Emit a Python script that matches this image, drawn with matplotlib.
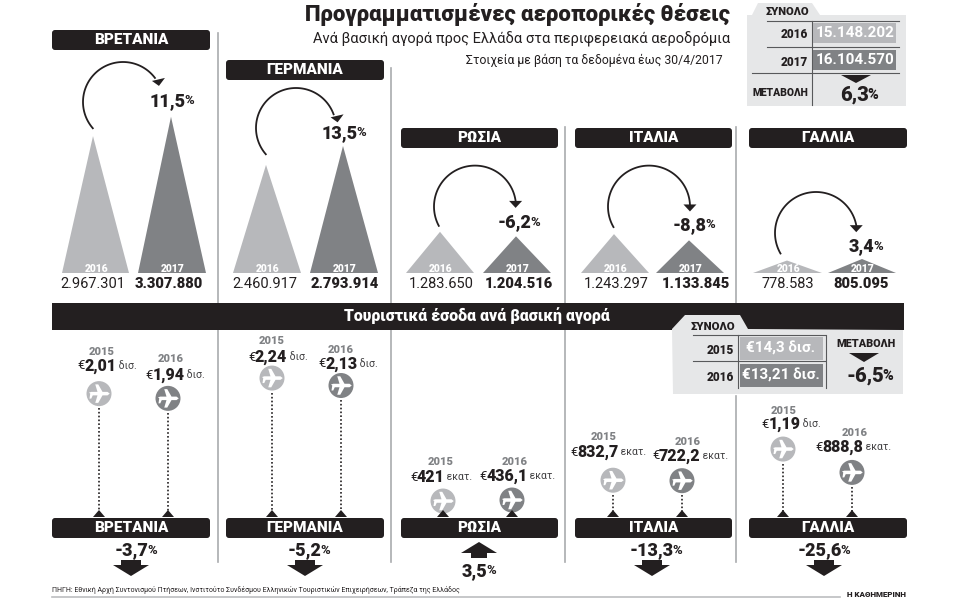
"""Greek infographic: scheduled airline seats and tourism revenue by main market."""

import numpy as np
import matplotlib

matplotlib.use("Agg")
import matplotlib.pyplot as plt
from matplotlib.patches import Circle, FancyBboxPatch, Polygon

plt.rcParams["font.family"] = ["Roboto", "DejaVu Sans"]

COUNTRIES = ["ΒΡΕΤΑΝΙΑ", "ΓΕΡΜΑΝΙΑ", "ΡΩΣΙΑ", "ΙΤΑΛΙΑ", "ΓΑΛΛΙΑ"]

SEATS_2016 = [2967301, 2460917, 1283650, 1243297, 778583]
SEATS_2017 = [3307880, 2793914, 1204516, 1133845, 805095]
SEATS_CHANGE = ["11,5", "13,5", "-6,2", "-8,8", "3,4"]

REVENUE_2015 = [2.01, 2.24, 0.421, 0.8327, 1.19]
REVENUE_2016 = [1.94, 2.13, 0.4361, 0.7222, 0.8888]
REVENUE_LABEL_2015 = ["2,01", "2,24", "421", "832,7", "1,19"]
REVENUE_LABEL_2016 = ["1,94", "2,13", "436,1", "722,2", "888,8"]
REVENUE_UNIT_2015 = ["δισ.", "δισ.", "εκατ.", "εκατ.", "δισ."]
REVENUE_UNIT_2016 = ["δισ.", "δισ.", "εκατ.", "εκατ.", "εκατ."]
REVENUE_CHANGE = ["-3,7", "-5,2", "3,5", "-13,3", "-25,6"]

TOTAL_SEATS = ["15.148.202", "16.104.570"]
TOTAL_SEATS_CHANGE = "6,3"
TOTAL_REVENUE = ["€14,3 δισ.", "€13,21 δισ."]
TOTAL_REVENUE_CHANGE = "-6,5"

LIGHT = "#b7b8bb"
DARK = "#808285"
INK = "#231f20"
PANEL = "#e6e7e8"
RULE = "#a9abae"
HEAVY = 900

fig = plt.figure(figsize=(9.58, 5.98), dpi=100)
ax = fig.add_axes([0, 0, 1, 1])
ax.set_xlim(0, 958)
ax.set_ylim(598, 0)
ax.axis("off")
renderer = fig.canvas.get_renderer()


def label(x, y, text, size=10, weight="normal", color=INK, ha="center", zorder=6):
    return ax.text(x, y, text, fontsize=size, fontweight=weight, color=color, ha=ha, va="center", zorder=zorder)


def rich(x, y, parts, gap=0):
    """Centre a run of (text, size, weight, colour) pieces around x."""
    items = [label(0, y, t, s, w, c, ha="left") for t, s, w, c in parts]
    widths = [i.get_window_extent(renderer).width + gap for i in items]
    left = x - sum(widths) / 2
    for item, width in zip(items, widths):
        item.set_x(left)
        left += width


def percent(x, y, value, size=13):
    rich(x, y, [(value, size, HEAVY, INK), ("%", size * 0.72, HEAVY, INK)], gap=-1.5)


def header(x0, x1, y0, y1, text):
    ax.add_patch(FancyBboxPatch((x0 + 3, y0 + 3), x1 - x0 - 6, y1 - y0 - 6, boxstyle="round,pad=3", fc=INK, ec="none", zorder=3))
    label((x0 + x1) / 2, (y0 + y1) / 2, text, 11, HEAVY, "white")


def down_arrow(cx, top, half=18, stem=10):
    ax.add_patch(Polygon([(cx - stem, top), (cx + stem, top), (cx + stem, top + 5), (cx + half, top + 5), (cx, top + 16), (cx - half, top + 5), (cx - stem, top + 5)], fc=INK, ec="none", zorder=4))


def up_arrow(cx, top, half=18, stem=8):
    ax.add_patch(Polygon([(cx, top), (cx + half, top + 11), (cx + stem, top + 11), (cx + stem, top + 16), (cx - stem, top + 16), (cx - stem, top + 11), (cx - half, top + 11)], fc=INK, ec="none", zorder=4))


def plane(cx, cy, r, color):
    ax.add_patch(Circle((cx, cy), r, fc=color, ec="none", zorder=3))
    shape = np.array([
        (-0.80, -0.08), (-0.62, -0.14), (-0.12, -0.14), (-0.30, -0.74), (-0.06, -0.74), (0.28, -0.14), (0.68, -0.14),
        (0.86, 0.0), (0.68, 0.14), (0.28, 0.14), (-0.06, 0.74), (-0.30, 0.74), (-0.12, 0.14), (-0.50, 0.14),
        (-0.62, 0.40), (-0.76, 0.40), (-0.70, 0.0),
    ])
    ax.add_patch(Polygon(shape * r + (cx, cy), fc="white", ec="none", zorder=4))


# title block
label(730, 15, "Προγραμματισμένες αεροπορικές θέσεις", 15.9, HEAVY, ha="right")
label(730, 39, "Ανά βασική αγορά προς Ελλάδα στα περιφερειακά αεροδρόμια", 10.5, ha="right")
label(723, 60, "Στοιχεία με βάση τα δεδομένα έως 30/4/2017", 8.8, ha="right")

# separators
for x, top, bottom in [(218, 33, 303), (391, 68, 303), (565, 127, 303), (736.5, 127, 303), (218, 330, 562), (391, 330, 562), (565, 330, 562), (736.5, 396, 562)]:
    ax.plot([x, x], [top, bottom], color=RULE, lw=1.2, zorder=1)

# seats section
BASE_Y = 273
SEAT_SCALE = 5.685e-5
SEAT_ZERO = 559000
header_x = [(52, 210), (226, 384), (401, 558), (575, 732), (749, 907)]
header_y = [(30, 50), (60, 80), (128, 148), (128, 148), (128, 148)]
tri_2016 = [(62, 129, 93), (233, 301, 266), (406, 474, 440), (581, 649, 614), (753, 822, 787)]
tri_2017 = [(138, 206, 171), (310, 378, 343), (483, 551, 516), (656, 724, 689), (828, 896, 862)]
label_x_2016 = [93, 265, 441, 616, 788]
label_x_2017 = [169, 345, 519, 696, 861]
pct_pos = [(171, 101), (343, 133), (518, 222), (693, 225), (865, 246)]
arcs = [(123, 102, 40, 139, 323), (296, 128, 40, 139, 340), (475, 206.6, 41, 152, 352), (649, 206.6, 41, 150, 357), (816, 233, 41, 150, 349)]

for i, name in enumerate(COUNTRIES):
    header(*header_x[i], *header_y[i], name)
    for value, (x0, x1, apex), color, year in ((SEATS_2016[i], tri_2016[i], LIGHT, "2016"), (SEATS_2017[i], tri_2017[i], DARK, "2017")):
        top = BASE_Y - (value - SEAT_ZERO) * SEAT_SCALE
        ax.add_patch(Polygon([(x0, BASE_Y), (x1, BASE_Y), (apex, top)], fc=color, ec="none", zorder=2))
        label((x0 + x1) / 2 + 1, 268.5, year, 7.5, HEAVY, "white")
    label(label_x_2016[i], 284, f"{SEATS_2016[i]:,}".replace(",", "."), 10.5)
    label(label_x_2017[i], 284, f"{SEATS_2017[i]:,}".replace(",", "."), 10.5, HEAVY)
    percent(pct_pos[i][0], pct_pos[i][1], SEATS_CHANGE[i])

    cx, cy, r, start, end = arcs[i]
    t = np.radians(np.linspace(start, end, 80))
    ax.plot(cx + r * np.cos(t), cy + r * np.sin(t), color=INK, lw=1.3, zorder=3)
    ex, ey = cx + r * np.cos(t[-1]), cy + r * np.sin(t[-1])
    if i < 2:
        ax.add_patch(Polygon([(ex + 10, ey + 0), (ex - 3, ey + 3), (ex + 4, ey + 8)], fc=INK, ec="none", zorder=4))
    else:
        ax.add_patch(Polygon([(ex - 6.5, ey), (ex + 6.5, ey), (ex, ey + 7)], fc=INK, ec="none", zorder=4))

# upper totals panel
ax.add_patch(Polygon([(747, 15), (752, 15), (758, 3), (812, 3), (820, 15), (906, 15), (906, 106), (747, 106)], fc=PANEL, ec="none", zorder=1))
label(787, 12, "ΣΥΝΟΛΟ", 8, HEAVY)
for y, x0 in [(21, 767), (47, 767), (73, 752)]:
    ax.plot([x0, 899], [y, y], color="#58595b", lw=0.8, zorder=2)
ax.plot([812, 812], [21, 105], color="#58595b", lw=0.8, zorder=2)
for (y0, y1), color, year, total in zip([(23, 43), (50, 70)], [LIGHT, DARK], ["2016", "2017"], TOTAL_SEATS):
    ax.fill_between([813, 896], y0, y1, color=color, lw=0, zorder=3)
    label(808, (y0 + y1) / 2 + 2, year, 8.5, HEAVY, ha="right")
    label(855, (y0 + y1) / 2, total, 11, "bold", "white")
label(808, 93, "ΜΕΤΑΒΟΛΗ", 7.5, HEAVY, ha="right")
ax.add_patch(Polygon([(841, 75), (871, 75), (856, 83)], fc=INK, ec="none", zorder=4))
percent(858, 95, TOTAL_SEATS_CHANGE, 14.5)

# revenue band
ax.fill_between([52, 904], 303, 330, color=INK, lw=0, zorder=2)
label(477, 316, "Τουριστικά έσοδα ανά βασική αγορά", 11.4, HEAVY, "white")

# lower totals panel
ax.add_patch(Polygon([(672, 329), (685, 315), (740, 315), (748, 329), (903, 330), (903, 394), (673, 394)], fc=PANEL, ec="none", zorder=3))
label(713, 327, "ΣΥΝΟΛΟ", 8.2, HEAVY, zorder=6)
for y in (335, 361):
    ax.plot([693, 825], [y, y], color="#58595b", lw=0.8, zorder=4)
for x in (738, 826):
    ax.plot([x, x], [335, 388], color="#58595b", lw=0.8, zorder=4)
for (y0, y1), color, year, total in zip([(337, 360), (364, 387)], [LIGHT, DARK], ["2015", "2016"], TOTAL_REVENUE):
    ax.fill_between([740, 823], y0, y1, color=color, lw=0, zorder=4)
    label(734, (y0 + y1) / 2 + 2, year, 8.5, HEAVY, ha="right")
    label(781, (y0 + y1) / 2, total, 11, "bold", "white")
label(866, 344, "ΜΕΤΑΒΟΛΗ", 7.8, HEAVY)
ax.add_patch(Polygon([(849, 353), (879, 353), (864, 362)], fc=INK, ec="none", zorder=5))
percent(869, 376, TOTAL_REVENUE_CHANGE, 14.5)

# revenue section
REV_BASE = 529.5
REV_SCALE = 67.6
PLANE_R = 12.5
bottom_x = [(99, 168), (272, 341), (443, 512), (613, 682), (783, 852)]
value_dx = [(8, 7), (5.5, 7), (-2, 5), (-5, 8), (8, 1)]
year_dx = [(3, 3), (0, 0), (-2, 3), (-9, 6), (1, 3)]
value_dy = [(-28, -23), (-21, -22), (-24, -24), (-28, -25), (-25, -25)]
year_dy = [(-42, -39), (-37, -36), (-39, -38), (-43, -39), (-38, -39)]
nudge_2015 = [0, 0, 0, 7, 0]
nudge_2016 = [0, 0, 0, 0, 3]
arrow_x = [131, 305, 479, 652, 824]
pct_x = [135, 308, 478, 655, 823]

for i, name in enumerate(COUNTRIES):
    header(header_x[i][0], header_x[i][1], 518, 538, name)
    rows = (
        (REVENUE_2015[i], REVENUE_LABEL_2015[i], REVENUE_UNIT_2015[i], "2015", LIGHT, nudge_2015[i], 0),
        (REVENUE_2016[i], REVENUE_LABEL_2016[i], REVENUE_UNIT_2016[i], "2016", DARK, nudge_2016[i], 1),
    )
    for value, text, unit, year, color, nudge, k in rows:
        x = bottom_x[i][k]
        y = REV_BASE - value * REV_SCALE + nudge
        plane(x, y, PLANE_R, color)
        if y + PLANE_R + 2 < 510:
            ax.plot([x, x], [y + PLANE_R + 2, 511], color=INK, lw=1.2, ls=(0, (1, 1.3)), zorder=2)
        ax.add_patch(Polygon([(x - 6, 517), (x + 6, 517), (x, 510)], fc=INK, ec="none", zorder=4))
        label(x + year_dx[i][k], y + year_dy[i][k], year, 8, HEAVY, "#808285")
        rich(x + value_dx[i][k], y + value_dy[i][k], [("€", 9.5, "normal", INK), (text, 11.5, HEAVY, INK), (" " + unit, 7.6, "normal", "#414042")], gap=-0.5)
    change = REVENUE_CHANGE[i]
    if change.startswith("-"):
        percent(pct_x[i], 550, change)
        down_arrow(arrow_x[i], 560)
    else:
        up_arrow(arrow_x[i], 542)
        percent(pct_x[i], 571, change)

# footer
label(52, 589.5, "ΠΗΓΗ: Εθνική Αρχή Συντονισμού Πτήσεων, Ινστιτούτο Συνδέσμου Ελληνικών Τουριστικών Επιχειρήσεων, Τράπεζα της Ελλάδος", 5.0, color="#231f20", ha="left")
ax.plot([52, 840], [596.5, 596.5], color="#bcbec0", lw=1.2)
label(906, 594.5, "Η ΚΑΘΗΜΕΡΙΝΗ", 5.8, HEAVY, ha="right")

fig.savefig("out.png", dpi=100)
